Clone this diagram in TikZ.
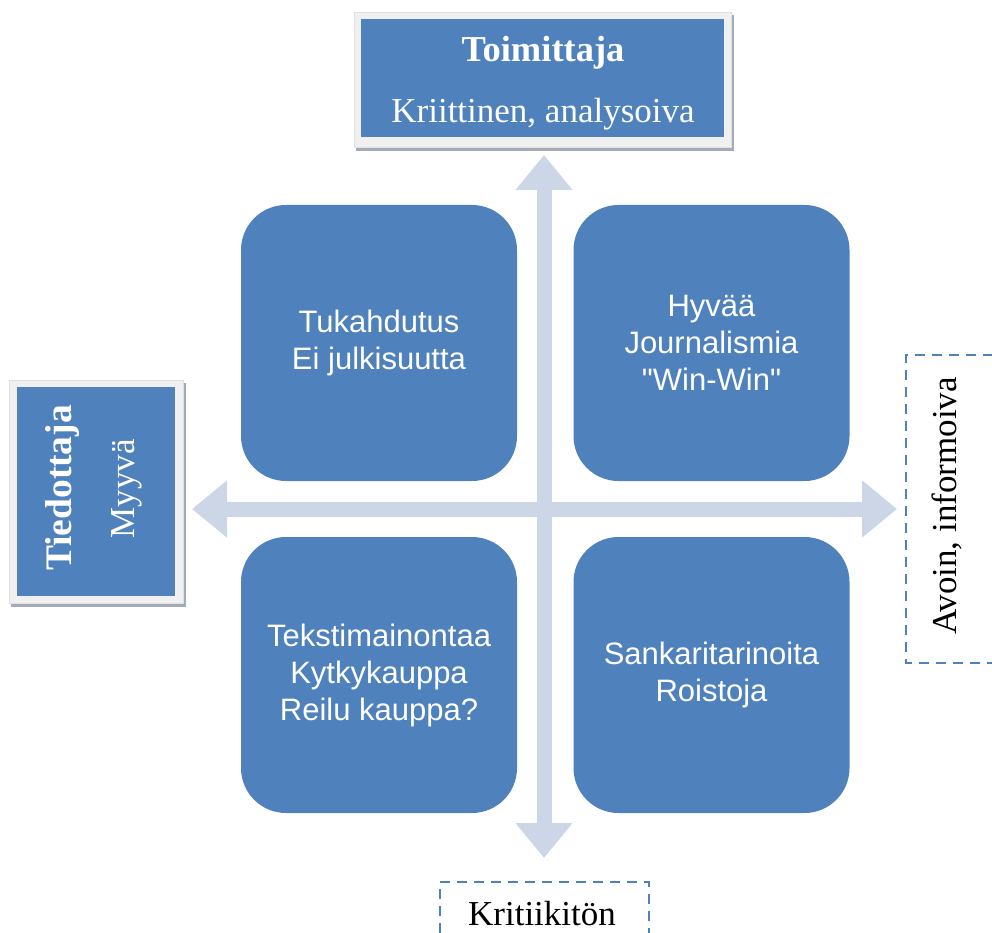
\documentclass[tikz,border=0pt]{standalone}
\usepackage{fontspec}
\setmainfont{Liberation Serif}
\newfontfamily\arialf{Liberation Sans}
\usetikzlibrary{arrows.meta}
\definecolor{qblue}{HTML}{4F81BD}
\definecolor{arrowc}{HTML}{CDD6E7}
\definecolor{framec}{HTML}{F0F0F0}
\definecolor{shadowc}{HTML}{A3ABB8}
\tikzset{
  quad/.style={fill=qblue, rounded corners=45pt, minimum width=276pt, minimum height=276pt, inner sep=0pt, text=white, align=center, font=\arialf\fontsize{31}{37}\selectfont},
  bluebox/.style={fill=qblue, inner sep=0pt},
  framebox/.style={fill=framec, draw=white!88!black, line width=0.6pt, inner sep=0pt},
  shadowbox/.style={fill=shadowc, inner sep=0pt},
  dashbox/.style={draw=qblue, line width=2pt, dash pattern=on 10pt off 7pt},
  axisarrow/.style={draw=arrowc, line width=15pt, {Triangle[length=35pt,width=55pt]}-{Triangle[length=35pt,width=55pt]}},
  wlabel/.style={text=white, inner sep=0pt, font=\fontsize{35}{40}\selectfont},
  blabel/.style={text=black, inner sep=0pt, font=\fontsize{35}{40}\selectfont}
}
\begin{document}
\begin{tikzpicture}[x=1pt,y=-1pt]
\useasboundingbox (0,0) rectangle (992,933);
\clip (0,0) rectangle (992,933);
% axes
\coordinate (up) at (544,155);
\coordinate (down) at (544,858);
\coordinate (leftend) at (192,509);
\coordinate (rightend) at (897,509);
\draw[axisarrow] (up) -- (down);
\draw[axisarrow] (leftend) -- (rightend);
% quadrants
\node[quad] (tl) at (379,343) {Tukahdutus\\Ei julkisuutta};
\node[quad] (tr) at (711.5,343) {Hyvää\\Journalismia\\"Win-Win"};
\node[quad] (bl) at (379,675) {Tekstimainontaa\\Kytkykauppa\\Reilu kauppa?};
\node[quad] (br) at (711.5,675) {Sankaritarinoita\\Roistoja};
% top box
\node[shadowbox, minimum width=378pt, minimum height=136pt] (topshadow) at (545,83) {};
\node[framebox, minimum width=377pt, minimum height=135pt] (topframe) at (542.5,79.5) {};
\node[bluebox, minimum width=363pt, minimum height=118pt] (topbox) at (542.5,78) {};
\node[wlabel, anchor=base, font=\bfseries\fontsize{36.5}{40}\selectfont] (toptitle) at (543,62) {Toimittaja};
\node[wlabel, anchor=base] (topsub) at (543,123) {Kriittinen, analysoiva};
% left box
\node[shadowbox, minimum width=175pt, minimum height=224pt] (leftshadow) at (98.5,495) {};
\node[framebox, minimum width=174pt, minimum height=223pt] (leftframe) at (96,491.5) {};
\node[bluebox, minimum width=158pt, minimum height=209pt] (leftbox) at (96,491.5) {};
\node[wlabel, rotate=90, font=\bfseries\fontsize{37.5}{40}\selectfont] (lefttitle) at (62,488) {Tiedottaja};
\node[wlabel, rotate=90] (leftsub) at (127,489) {Myyvä};
% right dashed box
\draw[dashbox] (1010,355) -- (906,355) -- (906,663) -- (1010,663);
\node[blabel, rotate=90] (righttext) at (947,506) {Avoin, informoiva};
% bottom dashed box
\draw[dashbox] (440,950) -- (440,882) -- (649,882) -- (649,950);
\node[blabel] (bottomtext) at (542,914) {Kritiikitön};
\end{tikzpicture}
\end{document}
